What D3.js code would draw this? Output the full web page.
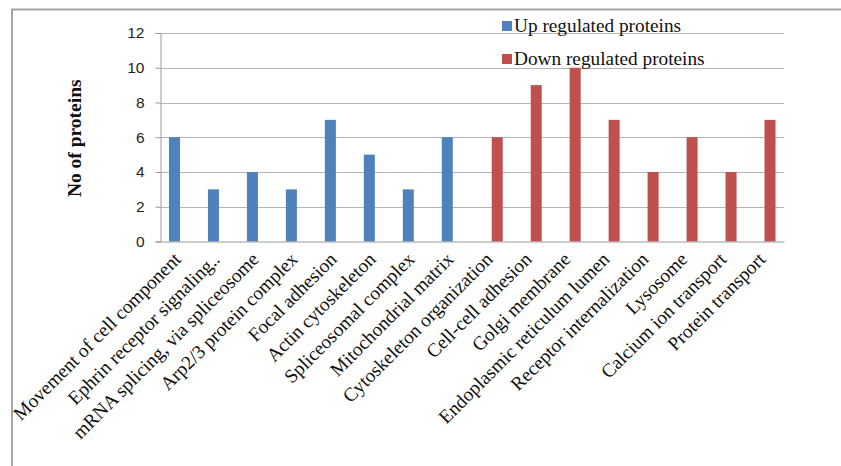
<!DOCTYPE html>
<html>
<head>
<meta charset="utf-8">
<script src="https://cdn.jsdelivr.net/npm/d3@7"></script>
<style>
  html, body { margin: 0; padding: 0; background: #fff; }
  svg { display: block; }
</style>
</head>
<body>
<svg id="chart" width="841" height="466"></svg>
<script>
// Gene ontology categories and protein counts per regulation direction
const categories = [
  "Movement of cell component",
  "Ephrin receptor signaling..",
  "mRNA splicing, via spliceosome",
  "Arp2/3 protein complex",
  "Focal adhesion",
  "Actin cytoskeleton",
  "Spliceosomal complex",
  "Mitochondrial matrix",
  "Cytoskeleton organization",
  "Cell-cell adhesion",
  "Golgi membrane",
  "Endoplasmic reticulum lumen",
  "Receptor internalization",
  "Lysosome",
  "Calcium ion transport",
  "Protein transport"
];
const upValues   = [6, 3, 4, 3, 7, 5, 3, 6, null, null, null, null, null, null, null, null];
const downValues = [null, null, null, null, null, null, null, null, 6, 9, 10, 7, 4, 6, 4, 7];
const seriesNames = ["Up regulated proteins", "Down regulated proteins"];
const yTicks = [0, 2, 4, 6, 8, 10, 12];

const colors = ["#4F81BD", "#C0504D"];
const svg = d3.select("#chart");

// outer frame (extends past the right and bottom edges)
svg.append("rect")
  .attr("x", 12).attr("y", 9.5)
  .attr("width", 900).attr("height", 600)
  .attr("fill", "none").attr("stroke", "#a6a6a6").attr("stroke-width", 2);

const plot = { left: 160.5, right: 784, top: 33, bottom: 241.5 };

const x = d3.scaleBand().domain(categories).range([plot.left, plot.right]);
const y = d3.scaleLinear().domain([0, 12]).range([plot.bottom, plot.top]);
const sub = d3.scaleBand().domain([0, 1]).range([0, x.bandwidth()]).paddingInner(0).paddingOuter(0.77);

// gridlines
svg.append("g")
  .selectAll("line")
  .data(yTicks.filter(t => t > 0))
  .join("line")
  .attr("x1", plot.left).attr("x2", plot.right)
  .attr("y1", d => Math.round(y(d)) + 0.5).attr("y2", d => Math.round(y(d)) + 0.5)
  .attr("stroke", "#b5b5b5").attr("stroke-width", 1.2);

// bars
[upValues, downValues].forEach((vals, si) => {
  svg.append("g")
    .selectAll("rect")
    .data(categories.map((c, i) => ({ c, v: vals[i] })).filter(d => d.v != null))
    .join("rect")
    .attr("x", d => x(d.c) + sub(si))
    .attr("width", sub.bandwidth())
    .attr("y", d => y(d.v))
    .attr("height", d => y(0) - y(d.v))
    .attr("fill", colors[si]);
});

// y axis
const yAxis = d3.axisLeft(y).tickValues(yTicks).tickSize(5).tickPadding(11).tickFormat(d3.format("d"));
const gy = svg.append("g").attr("transform", `translate(${plot.left},0)`).call(yAxis);
gy.select(".domain").attr("stroke", "#9a9a9a");
gy.selectAll(".tick line").attr("stroke", "#9a9a9a");
gy.selectAll(".tick text")
  .attr("font-family", "Liberation Sans, Arial, sans-serif")
  .attr("font-size", 15.5).attr("fill", "#222");

// x axis baseline
const xAxis = d3.axisBottom(x).tickSize(0).tickFormat("");
const gx = svg.append("g").attr("transform", `translate(0,${plot.bottom})`).call(xAxis);
gx.select(".domain").attr("stroke", "#9a9a9a");

// rotated category labels
svg.append("g")
  .selectAll("text")
  .data(categories)
  .join("text")
  .attr("transform", d => `translate(${x(d) + x.bandwidth() / 2 + 2},${plot.bottom + 19}) rotate(-45)`)
  .attr("text-anchor", "end")
  .attr("font-family", "Liberation Serif, Times New Roman, serif")
  .attr("font-size", 19.3).attr("fill", "#111")
  .text(d => d);

// y axis title
svg.append("text")
  .attr("transform", `translate(81,${(plot.top + plot.bottom) / 2 + 1}) rotate(-90)`)
  .attr("text-anchor", "middle")
  .attr("font-family", "Liberation Serif, Times New Roman, serif")
  .attr("font-weight", "bold")
  .attr("font-size", 19.5).attr("fill", "#111")
  .text("No of proteins");

// legend
const legend = svg.append("g").attr("transform", "translate(502,0)");
seriesNames.forEach((name, i) => {
  const ly = 21 + i * 33;
  legend.append("rect").attr("x", 0).attr("y", ly).attr("width", 10).attr("height", 10).attr("fill", colors[i]);
  legend.append("text")
    .attr("x", 12).attr("y", ly + 11)
    .attr("font-family", "Liberation Serif, Times New Roman, serif")
    .attr("font-size", 19.3).attr("fill", "#111")
    .text(name);
});
</script>
</body>
</html>
